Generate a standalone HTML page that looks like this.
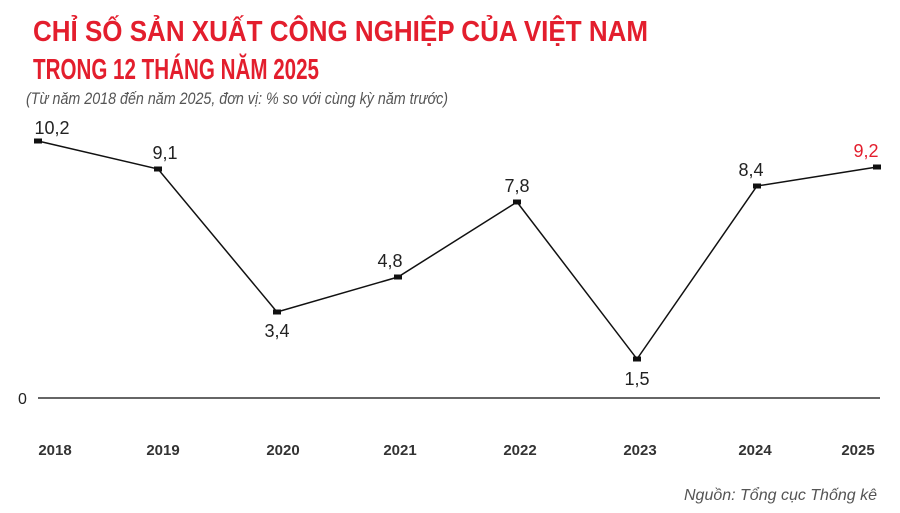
<!DOCTYPE html>
<html><head><meta charset="utf-8"><style>
html,body{margin:0;padding:0;background:#fff;}
svg{display:block;}
</style></head><body>
<svg width="900" height="513" xmlns="http://www.w3.org/2000/svg" font-family="Liberation Sans, sans-serif">
<text x="33" y="41" font-size="29" font-weight="bold" fill="#e31e2d" textLength="615" lengthAdjust="spacingAndGlyphs">CHỈ SỐ SẢN XUẤT CÔNG NGHIỆP CỦA VIỆT NAM</text>
<text x="33" y="79" font-size="29" font-weight="bold" fill="#e31e2d" textLength="286" lengthAdjust="spacingAndGlyphs">TRONG 12 THÁNG NĂM 2025</text>
<text x="26" y="104" font-size="17" font-style="italic" fill="#555" textLength="422" lengthAdjust="spacingAndGlyphs">(Từ năm 2018 đến năm 2025, đơn vị: % so với cùng kỳ năm trước)</text>
<line x1="38" y1="398" x2="880" y2="398" stroke="#333" stroke-width="1.5"/>
<text x="18" y="404" font-size="16" fill="#222">0</text>
<polyline fill="none" stroke="#111" stroke-width="1.5" points="38,141 158,169 277,312 398,277 517,202 637,359 757,186 877,167"/>
<g fill="#111">
<rect x="34" y="138.5" width="8" height="5"/><rect x="154" y="166.5" width="8" height="5"/><rect x="273" y="309.5" width="8" height="5"/><rect x="394" y="274.5" width="8" height="5"/><rect x="513" y="199.5" width="8" height="5"/><rect x="633" y="356.5" width="8" height="5"/><rect x="753" y="183.5" width="8" height="5"/><rect x="873" y="164.5" width="8" height="5"/>
</g>
<g font-size="18" fill="#222" text-anchor="middle">
<text x="52" y="134">10,2</text>
<text x="165" y="159">9,1</text>
<text x="277" y="337">3,4</text>
<text x="390" y="267">4,8</text>
<text x="517" y="192">7,8</text>
<text x="637" y="385">1,5</text>
<text x="751" y="176">8,4</text>
<text x="866" y="157" fill="#e31e2d">9,2</text>
</g>
<g font-size="15" font-weight="bold" fill="#333" text-anchor="middle">
<text x="55" y="455">2018</text><text x="163" y="455">2019</text><text x="283" y="455">2020</text><text x="400" y="455">2021</text><text x="520" y="455">2022</text><text x="640" y="455">2023</text><text x="755" y="455">2024</text><text x="858" y="455">2025</text>
</g>
<text x="877" y="500" font-size="16" font-style="italic" fill="#555" text-anchor="end">Nguồn: Tổng cục Thống kê</text>
</svg>
</body></html>
